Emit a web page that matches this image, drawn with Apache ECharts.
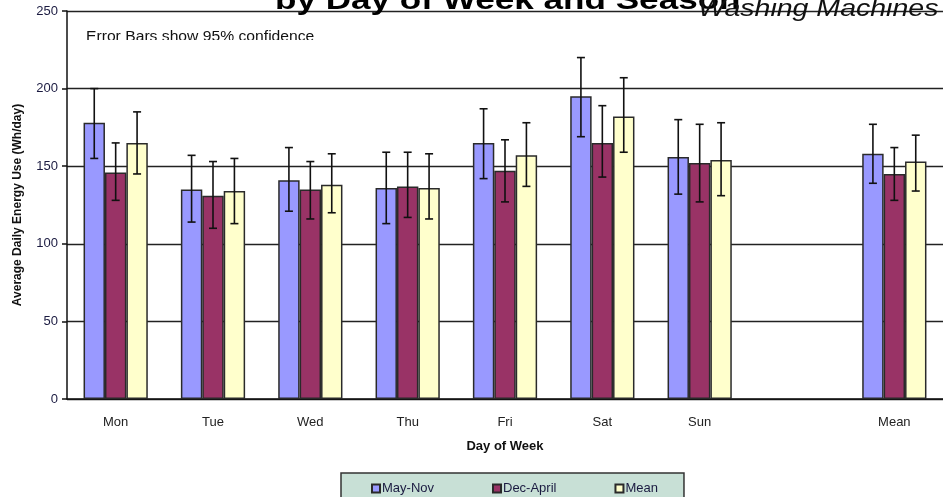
<!DOCTYPE html>
<html>
<head>
<meta charset="utf-8">
<script src="https://cdn.jsdelivr.net/npm/echarts@6/dist/echarts.min.js"></script>
<style>
  html, body { margin: 0; padding: 0; background: #fff; }
  #chart { width: 943px; height: 497px; }
</style>
</head>
<body>
<div id="chart"></div>
<script>
// categories along the x axis (blank slot before the overall mean)
const days = ['Mon', 'Tue', 'Wed', 'Thu', 'Fri', 'Sat', 'Sun', '', 'Mean'];

// average daily energy use, Wh/day
const mayNov     = [178, 135, 141, 136, 165, 195, 156, '-', 158];
const mayNovLow  = [155, 114, 121, 113, 142, 169, 132, '-', 139];
const mayNovHigh = [200, 157, 162, 159, 187, 220, 180, '-', 177];

const decApril     = [146, 131, 135, 137, 147, 165, 152, '-', 145];
const decAprilLow  = [128, 110, 116, 117, 127, 143, 127, '-', 128];
const decAprilHigh = [165, 153, 153, 159, 167, 189, 177, '-', 162];

const meanVals = [165, 134, 138, 136, 157, 182, 154, '-', 153];
const meanLow  = [145, 113, 120, 116, 137, 159, 131, '-', 134];
const meanHigh = [185, 155, 158, 158, 178, 207, 178, '-', 170];

const yTicks = [0, 50, 100, 150, 200, 250];

const FONT = '"Liberation Sans", Arial, sans-serif';
const BAR_FRAC = 0.22;

function errData(low, high) {
  let out = [];
  for (let i = 0; i < low.length; i++) {
    if (low[i] === '-') continue;
    out.push([i, low[i], high[i]]);
  }
  return out;
}

function errSeries(name, low, high, slot) {
  return {
    name: name,
    type: 'custom',
    z: 5,
    silent: true,
    encode: { x: 0, y: [1, 2] },
    data: errData(low, high),
    renderItem: function (params, api) {
      let band = api.size([1, 0])[0];
      let off = (slot - 1) * band * BAR_FRAC;
      let top = api.coord([api.value(0), api.value(2)]);
      let bot = api.coord([api.value(0), api.value(1)]);
      let x = top[0] + off;
      let cap = 4;
      let st = { stroke: '#111', lineWidth: 1.6 };
      return {
        type: 'group',
        children: [
          { type: 'line', shape: { x1: x, y1: top[1], x2: x, y2: bot[1] }, style: st },
          { type: 'line', shape: { x1: x - cap, y1: top[1], x2: x + cap, y2: top[1] }, style: st },
          { type: 'line', shape: { x1: x - cap, y1: bot[1], x2: x + cap, y2: bot[1] }, style: st }
        ]
      };
    }
  };
}

function barSeries(name, values, color) {
  return {
    name: name,
    type: 'bar',
    data: values,
    barWidth: (BAR_FRAC * 100) + '%',
    barGap: '0%',
    itemStyle: { color: color, borderColor: '#2a2a2a', borderWidth: 1.5 }
  };
}

const chart = echarts.init(document.getElementById('chart'));

chart.setOption({
  animation: false,
  backgroundColor: '#fff',
  textStyle: { fontFamily: FONT },
  grid: { left: 67, top: 11, width: 880, height: 388 },
  legend: {
    left: 341,
    top: 473,
    padding: [9, 26, 12, 30],
    itemWidth: 8,
    itemHeight: 8,
    itemGap: 58,
    icon: 'rect',
    backgroundColor: '#c8e0d6',
    borderColor: '#333',
    borderWidth: 1.5,
    borderRadius: 0,
    textStyle: { fontFamily: FONT, fontSize: 13, color: '#1a1a40', padding: [0, 0, 0, -3] },
    data: ['May-Nov', 'Dec-April', 'Mean']
  },
  xAxis: {
    type: 'category',
    data: days,
    name: 'Day of Week',
    nameLocation: 'middle',
    nameGap: 41,
    nameTextStyle: { fontFamily: FONT, fontSize: 13, fontWeight: 'bold', color: '#111' },
    axisLine: { lineStyle: { color: '#111', width: 1.5 } },
    axisTick: { length: 5, lineStyle: { color: '#111', width: 1.5 } },
    axisLabel: { fontFamily: FONT, fontSize: 13, color: '#222', margin: 17, interval: 0 },
    splitLine: { show: false }
  },
  yAxis: {
    type: 'value',
    min: yTicks[0],
    max: yTicks[yTicks.length - 1],
    interval: 50,
    name: 'Average Daily Energy Use (Wh/day)',
    nameLocation: 'middle',
    nameGap: 43,
    nameTextStyle: { fontFamily: FONT, fontSize: 12, fontWeight: 'bold', color: '#111' },
    axisLine: { show: true, lineStyle: { color: '#111', width: 1.5 } },
    axisTick: { show: true, length: 5, lineStyle: { color: '#111', width: 1.5 } },
    axisLabel: { fontFamily: FONT, fontSize: 13, color: '#1a1a40', margin: 9 },
    splitLine: { lineStyle: { color: '#222', width: 1.4 } }
  },
  graphic: [
    {
      type: 'text',
      x: 275, y: 15,
      scaleX: 1.3,
      z: 10,
      style: {
        text: 'by Day of Week and Season',
        font: 'bold 27px ' + FONT,
        fill: '#000',
        verticalAlign: 'bottom'
      }
    },
    {
      type: 'text',
      x: 698, y: 10,
      scaleX: 1.24,
      z: 11,
      style: {
        text: 'Washing Machines',
        font: 'italic 23px ' + FONT,
        fill: '#111',
        verticalAlign: 'middle'
      }
    },
    {
      type: 'text',
      x: 86, y: 30,
      scaleX: 1.12,
      z: 10,
      style: {
        text: 'Error Bars show 95% confidence',
        font: '14px ' + FONT,
        fill: '#111',
        verticalAlign: 'top'
      }
    },
    {
      type: 'rect',
      z: 11,
      shape: { x: 80, y: 40, width: 250, height: 12 },
      style: { fill: '#fff' }
    }
  ],
  series: [
    barSeries('May-Nov', mayNov, '#9999ff'),
    barSeries('Dec-April', decApril, '#993366'),
    barSeries('Mean', meanVals, '#ffffcc'),
    errSeries('May-Nov', mayNovLow, mayNovHigh, 0),
    errSeries('Dec-April', decAprilLow, decAprilHigh, 1),
    errSeries('Mean', meanLow, meanHigh, 2)
  ]
});
</script>
</body>
</html>
